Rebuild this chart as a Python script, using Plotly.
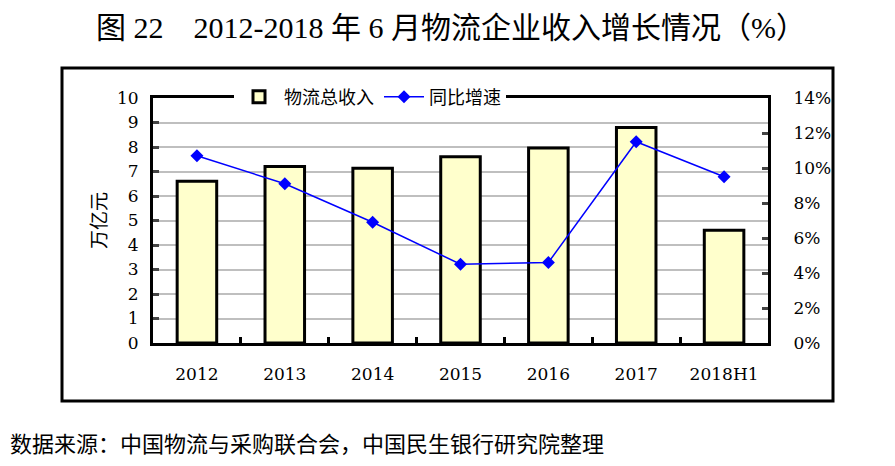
import plotly.graph_objects as go

# chart values
years = ["2012", "2013", "2014", "2015", "2016", "2017", "2018H1"]
revenue = [6.6, 7.2, 7.13, 7.6, 7.96, 8.8, 4.6]          # 万亿元
growth = [10.7, 9.1, 6.9, 4.5, 4.6, 11.5, 9.5]           # %

# page body has an 8px margin, so work in page pixels and shift
OFF = 8
W, H = 895 - OFF, 466 - OFF
L, R, T, B = 153 - OFF, 768 - OFF, 98 - OFF, 343 - OFF

serif = "DejaVu Serif, Noto Sans CJK SC, serif"
cjk = "Noto Sans CJK SC, sans-serif"


def px(x, y):
    # page pixel -> paper coords of the plot area
    x, y = x - OFF, y - OFF
    return (x - L) / (R - L), (B - y) / (B - T)


fig = go.Figure()
fig.add_trace(go.Bar(
    x=years, y=revenue, name="物流总收入",
    marker=dict(color="#FFFFCC", line=dict(color="black", width=3)),
    width=0.45,
))
fig.add_trace(go.Scatter(
    x=years, y=growth, name="同比增速", yaxis="y2",
    mode="lines+markers",
    line=dict(color="#0000FF", width=1.5),
    marker=dict(symbol="diamond", size=10, color="#0000FF"),
))

ox0, oy0 = px(62, 401)
ox1, oy1 = px(833, 68)
fig.add_shape(type="rect", xref="paper", yref="paper",
              x0=ox0, y0=oy0, x1=ox1, y1=oy1,
              line=dict(color="black", width=3), layer="below")

lx, ly = px(370, 97)
fig.update_layout(
    width=W, height=H,
    margin=dict(l=L, r=W - R, t=T, b=H - B, autoexpand=False),
    paper_bgcolor="white", plot_bgcolor="white",
    font=dict(family=serif, size=17, color="black"),
    title=dict(text="图 22　2012-2018 年 6 月物流企业收入增长情况（%）",
               x=(451 - OFF) / W, xanchor="center", y=1 - (27 - OFF) / H, yanchor="middle",
               font=dict(family="Liberation Serif, Noto Sans CJK SC", size=30, color="black")),
    showlegend=True,
    legend=dict(orientation="h", x=lx, y=ly, xanchor="center", yanchor="middle",
                bgcolor="white", font=dict(family=cjk, size=18),
                traceorder="normal", itemwidth=40),
    xaxis=dict(type="category", showline=True, linecolor="black", linewidth=3,
               mirror=True, ticks="inside", tickson="boundaries", ticklen=6,
               tickwidth=3, tickcolor="black", ticklabelstandoff=14,
               tickfont=dict(size=17), automargin=False),
    yaxis=dict(range=[0, 10], dtick=1, showline=True, linecolor="black",
               linewidth=3, ticks="inside", ticklen=6, tickwidth=3,
               gridcolor="#BFBFBF", gridwidth=2, zeroline=False,
               ticklabelstandoff=8, tickfont=dict(size=17), automargin=False,
               title=dict(text="万亿元", font=dict(family=cjk, size=19), standoff=6)),
    yaxis2=dict(range=[0, 14], dtick=2, ticksuffix="%", overlaying="y",
                side="right", showline=True, linecolor="black", linewidth=3,
                ticks="inside", ticklen=6, tickwidth=3, showgrid=False,
                zeroline=False, ticklabelstandoff=19, tickfont=dict(size=17),
                automargin=False),
    bargap=0.55,
)

fig.add_annotation(text="数据来源：中国物流与采购联合会，中国民生银行研究院整理",
                   xref="paper", yref="paper", x=px(8, 0)[0], y=px(0, 442)[1],
                   xanchor="left", yanchor="middle", showarrow=False,
                   font=dict(family=cjk, size=22, color="black"))

fig.write_html("out.html")
